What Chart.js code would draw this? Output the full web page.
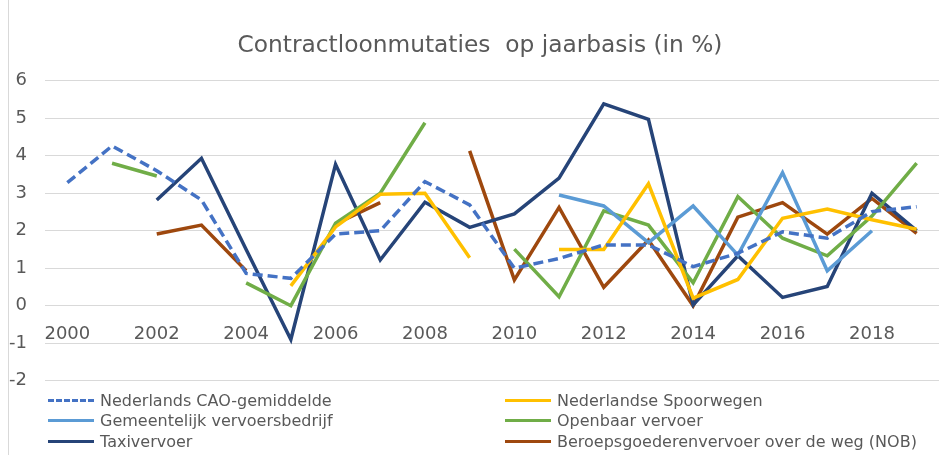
<!DOCTYPE html>
<html>
<head>
<meta charset="utf-8">
<script src="https://cdn.jsdelivr.net/npm/chart.js@4.4.0/dist/chart.umd.min.js"></script>
<style>
  body { margin: 0; background: #fff; }
  #wrap { position: relative; width: 939px; height: 455px; }
  #titel { position: absolute; left: 0; top: 30px; width: 960px; text-align: center;
           font-family: "DejaVu Sans"; font-size: 23.3px; line-height: 28px; color: #595959; white-space: pre; }
  #legend { position: absolute; left: 0; top: 0; font-family: "DejaVu Sans"; font-size: 16px; color: #595959; }
  .item { position: absolute; white-space: nowrap; height: 21px; line-height: 21px; }
  .swatch { position: absolute; width: 46px; height: 0; top: 9px; }
</style>
</head>
<body>
<div id="wrap">
  <canvas id="chart" width="939" height="455"></canvas>
  <div id="titel"></div>
  <div id="legend"></div>
</div>
<script>
const titel = 'Contractloonmutaties  op jaarbasis (in %)';

// jaren op de x-as
const years = ['2000', '2001', '2002', '2003', '2004', '2005', '2006', '2007', '2008', '2009',
               '2010', '2011', '2012', '2013', '2014', '2015', '2016', '2017', '2018', '2019'];

// contractloonmutaties per sector (in %)
const caoGemiddelde = [3.28, 4.26, 3.6, 2.82, 0.86, 0.73, 1.91, 2.0, 3.31, 2.69,
                       1.0, 1.26, 1.62, 1.62, 1.04, 1.4, 1.97, 1.8, 2.51, 2.64];
const spoorwegen = [null, null, null, null, null, 0.53, 2.1, 2.97, 3.0, 1.28,
                    null, 1.5, 1.5, 3.25, 0.2, 0.7, 2.33, 2.58, 2.29, 2.04];
const gemeentelijk = [null, null, null, null, null, null, null, null, null, null,
                      null, 2.95, 2.66, 1.68, 2.66, 1.35, 3.55, 0.93, 2.0, null];
const openbaarVervoer = [null, 3.8, 3.46, null, 0.61, 0.0, 2.2, 3.0, 4.88, null,
                         1.51, 0.24, 2.53, 2.15, 0.61, 2.91, 1.8, 1.33, 2.39, 3.8];
const taxi = [null, null, 2.82, 3.93, 1.5, -0.9, 3.77, 1.22, 2.76, 2.09,
              2.45, 3.4, 5.38, 4.97, 0.02, 1.33, 0.22, 0.51, 3.0, 2.0];
const goederenvervoer = [null, null, 1.91, 2.15, 0.93, null, 2.18, 2.75, null, 4.13,
                         0.69, 2.62, 0.49, 1.75, 0.0, 2.36, 2.75, 1.91, 2.86, 1.93];

const seriesNames = ['Nederlands CAO-gemiddelde', 'Nederlandse Spoorwegen', 'Gemeentelijk vervoersbedrijf',
                     'Openbaar vervoer', 'Taxivervoer', 'Beroepsgoederenvervoer over de weg (NOB)'];

const textColor = '#595959';
const gridColor = '#d9d9d9';

document.getElementById('titel').textContent = titel;

function lijn(label, data, color, dash) {
    return {
        label: label,
        data: data,
        borderColor: color,
        backgroundColor: color,
        borderWidth: 3.5,
        borderDash: dash || [],
        pointRadius: 0,
        pointHoverRadius: 0,
        tension: 0,
        spanGaps: false,
        fill: false
    };
}

const datasets = [
    lijn(seriesNames[0], caoGemiddelde, '#4472C4', [10, 5]),
    lijn(seriesNames[1], spoorwegen, '#FFC000'),
    lijn(seriesNames[2], gemeentelijk, '#5B9BD5'),
    lijn(seriesNames[3], openbaarVervoer, '#70AD47'),
    lijn(seriesNames[4], taxi, '#264478'),
    lijn(seriesNames[5], goederenvervoer, '#9E480E')
];

// grijze rand links, zoals in het origineel
const randPlugin = {
    id: 'rand',
    beforeDraw(chart) {
        const ctx = chart.ctx;
        ctx.save();
        ctx.fillStyle = '#fff';
        ctx.fillRect(0, 0, chart.width, chart.height);
        ctx.strokeStyle = gridColor;
        ctx.lineWidth = 1;
        ctx.beginPath();
        ctx.moveTo(8.5, 0);
        ctx.lineTo(8.5, chart.height);
        ctx.stroke();
        ctx.restore();
    }
};

const ctx = document.getElementById('chart').getContext('2d');
const chart = new Chart(ctx, {
    type: 'line',
    data: { labels: years, datasets: datasets },
    options: {
        responsive: false,
        animation: false,
        layout: { padding: { left: 0, right: 0, top: 80.7, bottom: 74.3 } },
        plugins: {
            legend: { display: false },
            tooltip: { enabled: false },
            title: { display: false }
        },
        scales: {
            x: {
                type: 'category',
                position: { y: 0 },
                offset: true,
                grid: { display: false, drawTicks: false },
                border: { display: true, color: gridColor },
                ticks: {
                    color: textColor,
                    font: { family: 'DejaVu Sans', size: 18 },
                    padding: 18,
                    autoSkip: false,
                    maxRotation: 0,
                    callback: function (val, index) {
                        return index % 2 === 0 ? this.getLabelForValue(val) : '';
                    }
                }
            },
            y: {
                min: -2,
                max: 6,
                grid: { color: gridColor, lineWidth: 1, drawTicks: false },
                border: { display: false },
                ticks: {
                    stepSize: 1,
                    color: textColor,
                    font: { family: 'DejaVu Sans', size: 18 },
                    padding: 18
                },
                afterFit: function (scale) { scale.width = 45; }
            }
        }
    },
    plugins: [randPlugin]
});

// legenda in twee kolommen
const legend = document.getElementById('legend');
const kolomX = [48, 505];
const rijY = [390, 410, 431];
datasets.forEach((ds, i) => {
    const kol = i % 2;
    const rij = Math.floor(i / 2);
    const item = document.createElement('div');
    item.className = 'item';
    item.style.left = kolomX[kol] + 'px';
    item.style.top = rijY[rij] + 'px';
    const sw = document.createElement('span');
    sw.className = 'swatch';
    sw.style.left = '0px';
    sw.style.borderTop = '3px ' + (ds.borderDash.length ? 'dashed ' : 'solid ') + ds.borderColor;
    const txt = document.createElement('span');
    txt.textContent = ds.label;
    txt.style.marginLeft = '52px';
    item.appendChild(sw);
    item.appendChild(txt);
    legend.appendChild(item);
});
</script>
</body>
</html>
